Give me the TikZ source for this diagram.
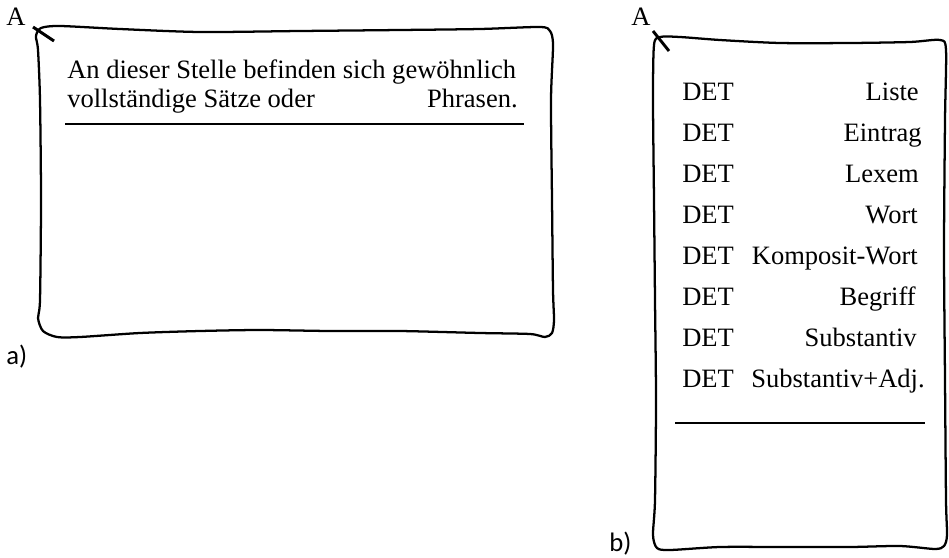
\documentclass[tikz,border=0pt]{standalone}
\usepackage{fontspec}
\setmainfont{Liberation Serif}
\newfontfamily\capfont{Carlito}
\usepackage{tikz}
\newcommand{\pencolor}{black}
\newcommand{\penwidth}{1.7pt}
\newcommand{\tickwidth}{2.2pt}
\newcommand{\txtsize}{\fontsize{19.9}{21.75}\selectfont}
\tikzset{
  sketch/.style={draw=\pencolor, line width=\penwidth, line join=round},
  tickmark/.style={draw=\pencolor, line width=\tickwidth},
  rulebar/.style={draw=\pencolor, line width=1.3pt},
  txt/.style={inner sep=0pt, font=\txtsize},
  caption/.style={inner sep=0pt, font=\capfont\fontsize{20}{22}\selectfont}
}

\begin{document}
\begin{tikzpicture}[x=0.75pt, y=-0.75pt]
\useasboundingbox (0,0) rectangle (949,557);
%a
\draw[sketch] plot[smooth cycle, tension=0.45] coordinates {
  (36,36) (41,28) (60,26) (120,29) (200,32) (300,31) (400,30) (480,29)
  (540,27) (550,31) (553,45) (551,100) (552,200) (553,290) (554,320)
  (552,333) (545,337) (530,334) (480,333) (400,331) (330,331) (260,330)
  (200,331) (140,333) (80,337) (57,337) (43,331) (38,318) (40,300)
  (41,200) (40,100) (38,50)};
\node[txt, anchor=base] (Aa) at (16,25) {A};
\coordinate (ta1) at (33,27);
\coordinate (ta2) at (54,41);
\draw[tickmark] (ta1) -- (ta2);
\node[txt, anchor=base west] (l1) at (67,78) {An dieser Stelle befinden sich gewöhnlich};
\node[txt, anchor=base west] (l2) at (67,107) {vollständige Sätze oder};
\node[txt, anchor=base east] (l3) at (518,107) {Phrasen.};
\coordinate (ra1) at (65,124);
\coordinate (ra2) at (524,124);
\draw[rulebar] (ra1) -- (ra2);
\node[caption, anchor=base west] (capa) at (6,364) {a)};
%b
\draw[sketch] plot[smooth cycle, tension=0.45] coordinates {
  (654,45) (660,37) (680,37) (720,40) (780,43) (850,43) (910,42) (940,40)
  (946,50) (945,120) (944,250) (945,380) (946,500) (947,535) (944,546)
  (935,549) (900,546) (850,547) (780,547) (720,547) (670,550) (657,548)
  (653,535) (655,500) (656,400) (655,300) (654,200) (653,100)};
\node[txt, anchor=base] (Ab) at (641,25) {A};
\coordinate (tb1) at (653,31);
\coordinate (tb2) at (669,51);
\draw[tickmark] (tb1) -- (tb2);
\node[txt, anchor=base west] (d1) at (682,100) {DET};
\node[txt, anchor=base east] (w1) at (919,100) {Liste};
\node[txt, anchor=base west] (d2) at (682,141) {DET};
\node[txt, anchor=base east] (w2) at (922,141) {Eintrag};
\node[txt, anchor=base west] (d3) at (682,182) {DET};
\node[txt, anchor=base east] (w3) at (919,182) {Lexem};
\node[txt, anchor=base west] (d4) at (682,223) {DET};
\node[txt, anchor=base east] (w4) at (918,223) {Wort};
\node[txt, anchor=base west] (d5) at (682,264) {DET};
\node[txt, anchor=base east] (w5) at (918,264) {Komposit-Wort};
\node[txt, anchor=base west] (d6) at (682,305) {DET};
\node[txt, anchor=base east] (w6) at (916,305) {Begriff};
\node[txt, anchor=base west] (d7) at (682,346) {DET};
\node[txt, anchor=base east] (w7) at (917,346) {Substantiv};
\node[txt, anchor=base west] (d8) at (682,387) {DET};
\node[txt, anchor=base east] (w8) at (925,387) {Substantiv+Adj.};
\coordinate (rb1) at (675,423);
\coordinate (rb2) at (925,423);
\draw[rulebar] (rb1) -- (rb2);
\node[caption, anchor=base west] (capb) at (609,551) {b)};
\end{tikzpicture}
\end{document}
